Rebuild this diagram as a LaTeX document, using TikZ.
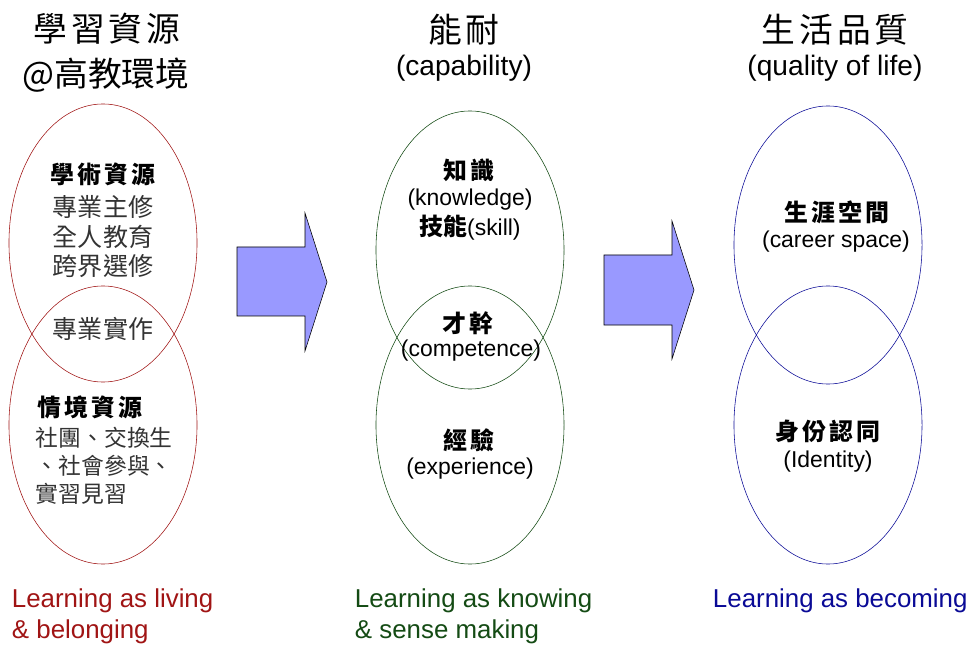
\documentclass[tikz,border=0pt]{standalone}
\usepackage{fontspec}
\setmainfont{Liberation Sans}
\newfontfamily\cjk{Noto Sans CJK TC}
\newfontfamily\cjkwide{Noto Sans CJK TC}[LetterSpace=12]
\usetikzlibrary{shapes.geometric}
\definecolor{livered}{RGB}{160,20,20}
\definecolor{knowgreen}{RGB}{20,75,20}
\definecolor{becomeblue}{RGB}{10,10,150}
\definecolor{arrowfill}{RGB}{153,153,255}
\tikzset{
  oval/.style={ellipse, draw, thin, inner sep=0pt, minimum width=4.7cm, minimum height=6.95cm},
  bigarrow/.style={draw=black, thin, fill=arrowfill, line join=miter},
  headcjk/.style={font=\cjkwide\fontsize{24}{28}\selectfont},
  headlat/.style={font=\fontsize{20}{24}\selectfont},
  keycjk/.style={font=\cjkwide\bfseries\fontsize{17}{21}\selectfont},
  bodycjk/.style={font=\cjk\fontsize{17.8}{21}\selectfont, text=black!80},
  bodylat/.style={font=\fontsize{16.3}{20}\selectfont},
  motto/.style={font=\fontsize{18.4}{22}\selectfont, align=left, anchor=west}
}
\begin{document}
\begin{tikzpicture}[x=0.025cm, y=-0.025cm]
\useasboundingbox (0,0) rectangle (971,648);
% titles
\node[headcjk] (restitle) at (107,29) {學習資源};
\node[headcjk, font=\cjk\fontsize{24}{28}\selectfont] (resplace) at (106,75) {@高教環境};
\node[headcjk] (captitle) at (464,30) {能耐};
\node[headlat] (capsub) at (464,68) {(capability)};
\node[headcjk] (qoltitle) at (835,30) {生活品質};
\node[headlat] (qolsub) at (835,68) {(quality of life)};
% ovals
\node[oval, draw=livered] (acad) at (103,243) {};
\node[oval, draw=livered] (context) at (103,425) {};
\node[oval, draw=knowgreen] (know) at (470,250) {};
\node[oval, draw=knowgreen] (exper) at (470,425) {};
\node[oval, draw=becomeblue] (career) at (828,245) {};
\node[oval, draw=becomeblue] (ident) at (828,425) {};
% arrows
\draw[bigarrow] (237,247) -- (305,247) -- (305,213) -- (327,282) -- (305,351) -- (305,316) -- (237,316) -- cycle;
\draw[bigarrow] (604,255) -- (672,255) -- (672,221) -- (694,290) -- (672,359) -- (672,325) -- (604,325) -- cycle;
% left texts
\node[keycjk] (acadkey) at (103,174) {學術資源};
\node[bodycjk, align=center] (acadlist) at (103,237) {專業主修\\全人教育\\跨界選修};
\node[bodycjk] (practice) at (103,329) {專業實作};
\node[keycjk, anchor=west] (contextkey) at (33,407) {情境資源};
\node[bodycjk, align=left, anchor=west, font=\cjk\fontsize{16.2}{19.8}\selectfont] (contextlist) at (31,466) {社團、交換生\\、社會參與、\\實習見習};
% middle texts
\node[keycjk] (knowkey) at (469,170) {知識};
\node[bodylat] (knowsub) at (470,200) {(knowledge)};
\node[bodylat] (skill) at (470,228) {{\cjk\bfseries\fontsize{17}{21}\selectfont 技能}(skill)};
\node[keycjk] (compkey) at (468,323) {才幹};
\node[bodylat] (compsub) at (471,351) {(competence)};
\node[keycjk] (experkey) at (469,440) {經驗};
\node[bodylat] (expersub) at (470,469) {(experience)};
% right texts
\node[keycjk] (careerkey) at (837,212) {生涯空間};
\node[bodylat] (careersub) at (836,242) {(career space)};
\node[keycjk] (identkey) at (828,431) {身份認同};
\node[bodylat] (identsub) at (828,462) {(Identity)};
% mottos
\node[motto, text=livered] (living) at (7,616) {Learning as living\\\& belonging};
\node[motto, text=knowgreen] (knowing) at (350,616) {Learning as knowing\\\& sense making};
\node[motto, text=becomeblue] (becoming) at (708,601) {Learning as becoming};
\end{tikzpicture}
\end{document}
